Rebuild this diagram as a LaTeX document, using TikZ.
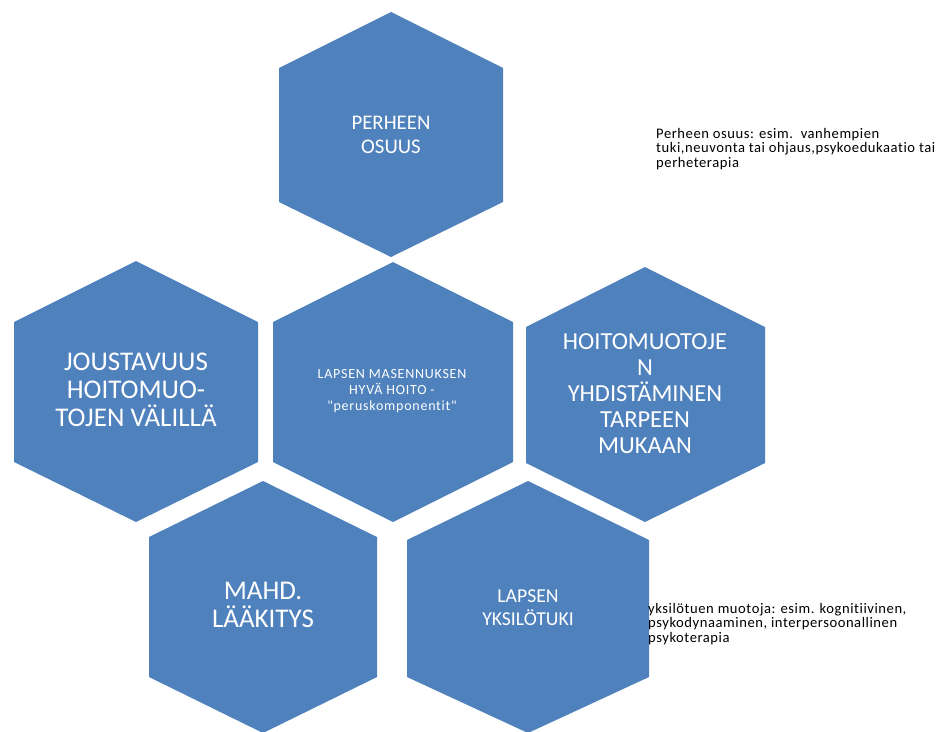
\documentclass[tikz,border=0pt]{standalone}
\usepackage{fontspec}
\setmainfont{Carlito}[Ligatures={TeXOff,NoCommon}]
\definecolor{hexblue}{HTML}{4F81BD}
\begin{document}
\begin{tikzpicture}[x=1pt,y=-1pt,
  hexbox/.style={fill=hexblue},
  hextext/.style={text=white, align=center, inner sep=0pt},
  note/.style={align=left, anchor=north west, inner sep=0pt, text=black, font=\fontsize{14.6}{14.6}\selectfont\addfontfeatures{LetterSpace=3.8}}]
\useasboundingbox (0,0) rectangle (949,731);
\clip (0,0) rectangle (949,731);
% hexagons
\fill[hexbox] (391,12) -- (503,68) -- (503,202) -- (391,257) -- (279,202) -- (279,68) -- cycle;
\fill[hexbox] (136,261) -- (258,322) -- (258,462) -- (136,522) -- (14,462) -- (14,322) -- cycle;
\fill[hexbox] (393,262) -- (513,322) -- (513,462) -- (393,522) -- (273,462) -- (273,322) -- cycle;
\fill[hexbox] (645,267) -- (765,327) -- (765,463) -- (645,522) -- (526,463) -- (526,327) -- cycle;
\fill[hexbox] (263,481) -- (377,537) -- (377,677) -- (263,733) -- (149,677) -- (149,537) -- cycle;
\fill[hexbox] (528,481) -- (649,540) -- (649,677) -- (528,733) -- (407,677) -- (407,540) -- cycle;
% texts
\node[hextext, font=\fontsize{20.8}{23.5}\selectfont] (perhe) at (391,135) {PERHEEN\\OSUUS};
\node[hextext, font=\fontsize{27}{28}\selectfont] (joust) at (136,390) {JOUSTAVUUS\\HOITOMUO-\\TOJEN VÄLILLÄ};
\node[hextext, font=\fontsize{14}{15.6}\selectfont\addfontfeatures{LetterSpace=5.4}] (lapsen) at (392,391) {LAPSEN MASENNUKSEN\\HYVÄ HOITO -\\"peruskomponentit"};
\node[hextext, font=\fontsize{24.5}{26}\selectfont] (yhd) at (645,394) {HOITOMUOTOJE\\N\\YHDISTÄMINEN\\TARPEEN\\MUKAAN};
\node[hextext, font=\fontsize{27}{27.5}\selectfont] (laak) at (263,605) {MAHD.\\LÄÄKITYS};
\node[hextext, font=\fontsize{19.7}{23}\selectfont] (yksi) at (528,608) {LAPSEN\\YKSILÖTUKI};
\node[note] (perhenote) at (656,128) {Perheen osuus: esim.\ \ vanhempien\\tuki,neuvonta tai ohjaus,psykoedukaatio tai\\perheterapia};
\node[note] (yksinote) at (648,603) {yksilötuen muotoja: esim. kognitiivinen,\\psykodynaaminen, interpersoonallinen\\psykoterapia};
\end{tikzpicture}
\end{document}
